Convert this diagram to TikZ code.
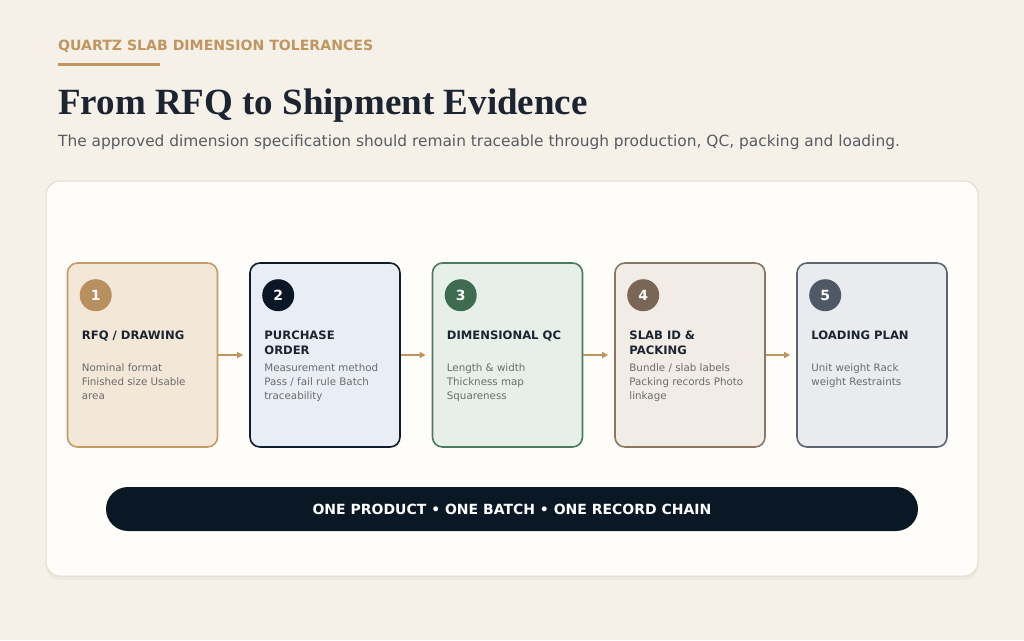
\documentclass[tikz,border=0pt]{standalone}
\usepackage{fontspec}
\setmainfont{DejaVu Sans}
\newfontfamily\headfont{Liberation Serif}
\usetikzlibrary{shadows,arrows.meta}

\definecolor{pagebg}{HTML}{F6F1E8}
\definecolor{cardbg}{HTML}{FFFDF9}
\definecolor{cardline}{HTML}{E6DAD0}
\definecolor{tan}{HTML}{C0955F}
\definecolor{ink}{HTML}{1B2430}
\definecolor{muted}{HTML}{575C63}
\definecolor{bodygray}{HTML}{6B6B6B}
\definecolor{navy}{HTML}{0A1724}
\definecolor{fillA}{HTML}{F3E7D7}\definecolor{lineA}{HTML}{C49B66}\definecolor{dotA}{HTML}{B88F5E}
\definecolor{fillB}{HTML}{E9EDF5}\definecolor{lineB}{HTML}{0F1C2B}\definecolor{dotB}{HTML}{0B1726}
\definecolor{fillC}{HTML}{E6F0E9}\definecolor{lineC}{HTML}{4B7B5F}\definecolor{dotC}{HTML}{3E6B52}
\definecolor{fillD}{HTML}{F1ECE6}\definecolor{lineD}{HTML}{8A7664}\definecolor{dotD}{HTML}{7A6656}
\definecolor{fillE}{HTML}{E9EBEF}\definecolor{lineE}{HTML}{5B6570}\definecolor{dotE}{HTML}{4F5966}

\tikzset{
  stepcard/.style={draw,line width=1.6pt,rounded corners=10pt,minimum width=150pt,minimum height=184pt,inner sep=0pt},
  stepdot/.style={circle,minimum size=32pt,inner sep=0pt,text=white,font=\fontsize{14}{16}\selectfont\bfseries},
  steptitle/.style={anchor=north west,inner sep=0pt,align=left,text=ink,font=\fontsize{11.6}{15}\selectfont\bfseries},
  stepbody/.style={anchor=north west,inner sep=0pt,align=left,text=bodygray,font=\fontsize{10.3}{14}\selectfont},
  flow/.style={draw=tan,line width=2pt,-{Triangle[length=6pt,width=6pt]},shorten >=6pt}
}

\begin{document}
\begin{tikzpicture}[x=1pt,y=-1pt]
\fill[pagebg] (0,0) rectangle (1024,640);
\useasboundingbox (0,0) rectangle (1024,640);

% header
\node[anchor=base west,inner sep=0pt,text=tan,font=\fontsize{14.1}{17}\selectfont\bfseries] (kicker) at (58,50) {QUARTZ SLAB DIMENSION TOLERANCES};
\draw[tan,line width=3pt] (58,64) -- (160,64);
\node[anchor=base west,inner sep=0pt,text=ink,font=\headfont\fontsize{37}{41}\selectfont\bfseries] (title) at (58,114) {From RFQ to Shipment Evidence};
\node[anchor=base west,inner sep=0pt,text=muted,font=\fontsize{15.4}{19}\selectfont] (subtitle) at (58,146) {The approved dimension specification should remain traceable through production, QC, packing and loading.};

% card
\node[draw=cardline,fill=cardbg,line width=1pt,rounded corners=14pt,minimum width=932pt,minimum height=395pt,
  drop shadow={shadow xshift=0pt,shadow yshift=-4pt,opacity=0.08}] (card) at (512,378.5) {};

% steps
\foreach \i/\cx/\k/\ttl/\body in {
  1/142.5/A/{RFQ / DRAWING}/{Nominal format\\Finished size Usable\\area},
  2/325/B/{PURCHASE\\ORDER}/{Measurement method\\Pass / fail rule Batch\\traceability},
  3/507.5/C/{DIMENSIONAL QC}/{Length \& width\\Thickness map\\Squareness},
  4/690/D/{SLAB ID \&\\PACKING}/{Bundle / slab labels\\Packing records Photo\\linkage},
  5/872/E/{LOADING PLAN}/{Unit weight Rack\\weight Restraints}}{
  \node[stepcard,draw=line\k,fill=fill\k] (s\i) at (\cx,355) {};
  \node[stepdot,fill=dot\k] (n\i) at ([xshift=29pt,yshift=-33pt]s\i.north west) {\i};
  \node[steptitle] (t\i) at ([xshift=15pt,yshift=-68pt]s\i.north west) {\ttl};
  \node[stepbody] (b\i) at ([xshift=15pt,yshift=-101pt]s\i.north west) {\body};
}
\foreach \a/\b in {1/2,2/3,3/4,4/5}
  \draw[flow] (s\a.east) -- (s\b.west);

% footer band
\node[fill=navy,rounded corners=22pt,minimum width=812pt,minimum height=44pt,text=white,
  font=\fontsize{14}{17}\selectfont\bfseries] (chain) at (512,509) {ONE PRODUCT \textbullet{} ONE BATCH \textbullet{} ONE RECORD CHAIN};
\end{tikzpicture}
\end{document}
